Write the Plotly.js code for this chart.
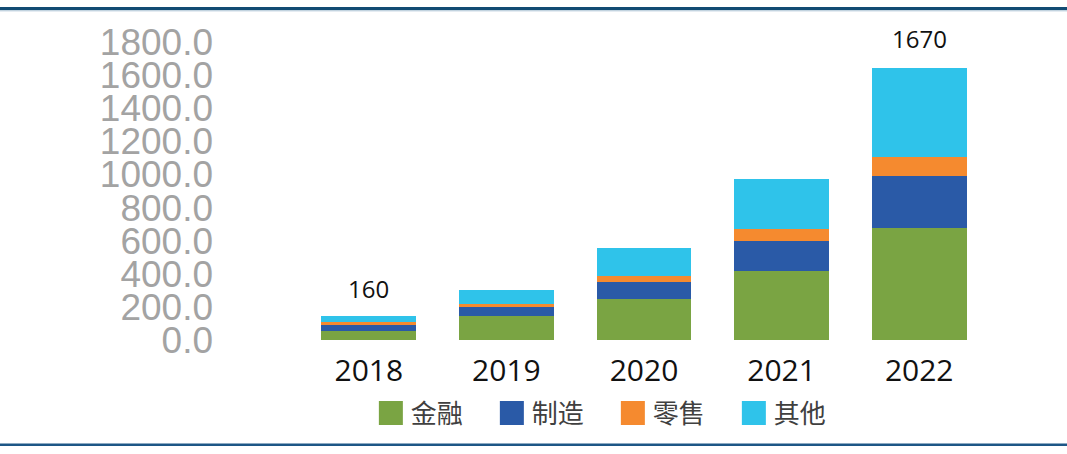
<!DOCTYPE html>
<html>
<head>
<meta charset="utf-8">
<script src="https://cdn.plot.ly/plotly-3.0.1.min.js"></script>
<style>html,body{margin:0;padding:0;background:#fff;}#chart{width:1067px;height:454px;}</style>
</head>
<body>
<div id="chart"></div>
<script>
// ---- data ----
var years = ['2018', '2019', '2020', '2021', '2022'];
var seriesNames = ['金融', '制造', '零售', '其他'];
var finance = [57, 146, 246, 414, 679];
var manufacturing = [35, 52, 103, 187, 310];
var retail = [15, 18, 40, 72, 119];
var other = [37, 87, 165, 298, 533];
var labelYears = ['2018', '2022'];
var labelTexts = ['160', '1670'];

var colors = ['#7aa443', '#2a5aa7', '#f58a2f', '#2fc3ea'];
var values = [finance, manufacturing, retail, other];

var traces = values.map(function (v, i) {
  return {
    type: 'bar',
    name: seriesNames[i],
    x: years,
    y: v,
    marker: {color: colors[i], line: {width: 0}},
    hoverinfo: 'none'
  };
});

var annotations = labelYears.map(function (yr, i) {
  return {
    x: years.indexOf(yr), y: Number(labelTexts[i]), xref: 'x', yref: 'y',
    text: labelTexts[i], showarrow: false,
    yanchor: 'bottom', yshift: 7,
    font: {family: 'Open Sans, sans-serif', size: 24, color: '#111'}
  };
});

var layout = {
  width: 1067, height: 454,
  margin: {l: 300, r: 79, t: 42, b: 114},
  paper_bgcolor: '#fff', plot_bgcolor: '#fff',
  barmode: 'stack',
  bargap: 0.31,
  showlegend: true,
  legend: {
    orientation: 'h', x: 0.103, xanchor: 'left', y: -0.245, yanchor: 'middle',
    traceorder: 'normal',
    font: {family: 'Noto Sans CJK SC, sans-serif', size: 26, color: '#404040'},
    entrywidth: 76, entrywidthmode: 'pixels',
    bgcolor: 'rgba(0,0,0,0)'
  },
  xaxis: {
    type: 'category', showgrid: false, zeroline: false, showline: false, ticks: '',
    range: [-0.5, 4.5],
    ticklabelstandoff: 10,
    tickfont: {family: 'Open Sans, sans-serif', size: 30, color: '#111'}
  },
  yaxis: {
    range: [0, 1800], dtick: 200, tick0: 0, tickformat: '.1f',
    showgrid: false, zeroline: false, showline: false, ticks: '',
    ticklabelstandoff: 86,
    tickfont: {family: 'Liberation Sans, Arial, sans-serif', size: 37, color: '#a3a3a3'}
  },
  annotations: annotations,
  shapes: [
    {type: 'line', xref: 'paper', yref: 'paper', x0: -1, x1: 2,
     y0: (340 - 8.5) / 298, y1: (340 - 8.5) / 298, line: {color: '#124b73', width: 3}},
    {type: 'line', xref: 'paper', yref: 'paper', x0: -1, x1: 2,
     y0: (340 - 10.8) / 298, y1: (340 - 10.8) / 298, line: {color: '#a9c0d2', width: 1}},
    {type: 'line', xref: 'paper', yref: 'paper', x0: -1, x1: 2,
     y0: (340 - 444.8) / 298, y1: (340 - 444.8) / 298, line: {color: '#1d5686', width: 2.5}}
  ]
};

Plotly.newPlot('chart', traces, layout, {displayModeBar: false, staticPlot: true}).then(function (gd) {
  var pts = gd.querySelectorAll('.legend .legendpoints path');
  pts.forEach(function (p) {
    var t = p.getAttribute('transform') || '';
    p.setAttribute('transform', t + ' scale(2)');
    p.style.strokeWidth = '0';
  });
});
</script>
</body>
</html>
